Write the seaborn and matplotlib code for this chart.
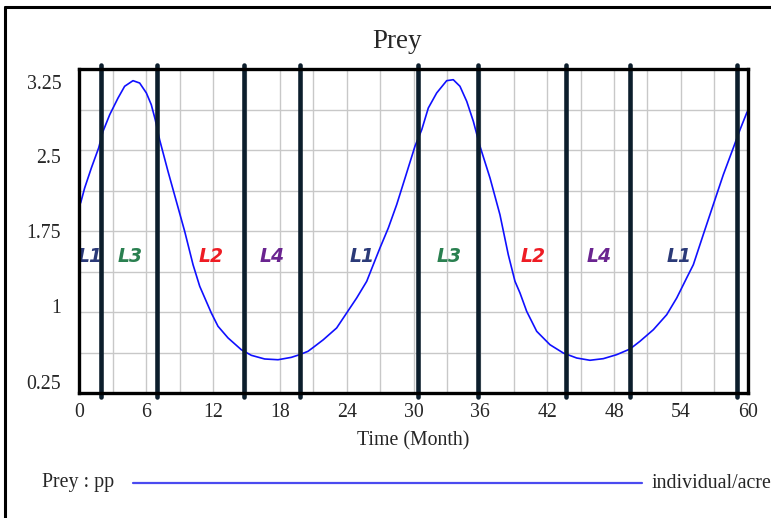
import numpy as np
import pandas as pd
import seaborn as sns
import matplotlib
matplotlib.use("Agg")
import matplotlib.pyplot as plt
from matplotlib.lines import Line2D
from matplotlib.transforms import ScaledTranslation

# ---------------- data ----------------
time = [0.0, 0.12, 0.48, 1.08, 1.74, 2.13, 2.73, 3.47, 4.07, 4.82, 5.42, 6.02, 6.46,
        6.82, 7.21, 7.96, 8.71, 9.46, 10.21, 10.81, 11.85, 12.45, 13.35, 14.54,
        15.44, 16.64, 17.84, 19.03, 19.78, 20.53, 21.0, 21.9, 23.1, 24.0, 24.9,
        25.8, 26.39, 26.99, 27.74, 28.49, 29.24, 30.13, 30.74, 31.33, 32.08, 32.98,
        33.57, 34.17, 34.78, 35.37, 35.97, 36.87, 37.76, 38.51, 39.11, 39.56, 40.16,
        41.06, 42.25, 43.45, 44.65, 45.84, 47.04, 48.24, 49.43, 50.33, 51.53, 52.73,
        53.63, 54.52, 55.12, 56.01, 56.91, 57.81, 58.71, 59.31, 59.91, 60.0]
prey = [2.00, 2.01, 2.148, 2.333, 2.52, 2.673, 2.827, 2.98, 3.09, 3.142, 3.12, 3.028,
        2.92, 2.78, 2.595, 2.303, 2.025, 1.747, 1.438, 1.238, 0.991, 0.868, 0.76,
        0.651, 0.599, 0.565, 0.558, 0.58, 0.605, 0.636, 0.672, 0.743, 0.852, 0.991,
        1.13, 1.284, 1.438, 1.593, 1.778, 1.994, 2.24, 2.534, 2.688, 2.889, 3.028,
        3.142, 3.151, 3.09, 2.95, 2.766, 2.534, 2.24, 1.901, 1.53, 1.284, 1.176,
        1.006, 0.821, 0.697, 0.62, 0.574, 0.553, 0.568, 0.605, 0.657, 0.729, 0.836,
        0.975, 1.13, 1.315, 1.438, 1.716, 1.994, 2.271, 2.52, 2.688, 2.843, 2.86]

regime_switch_times = [1.95, 7.0, 14.8, 19.8, 30.4, 35.8, 43.7, 49.4, 59.0]

region_labels = ["L1", "L3", "L2", "L4", "L1", "L3", "L2", "L4", "L1"]
region_label_x = [0.96, 4.56, 11.83, 17.3, 25.4, 33.2, 40.7, 46.7, 53.8]
region_label_y = 1.51
label_colors = {"L1": "#2b3a78", "L3": "#2a8050", "L2": "#ee1c24", "L4": "#6a2490"}

x_ticks = [0, 6, 12, 18, 24, 30, 36, 42, 48, 54, 60]
y_ticks = [0.25, 1, 1.75, 2.5, 3.25]
y_tick_labels = ["0.25", "1", "1.75", "2.5", "3.25"]

df = pd.DataFrame({"Time": time, "Prey": prey})

# ---------------- figure ----------------
sns.set_theme(style="white")
plt.rcParams["font.family"] = ["Liberation Serif", "DejaVu Serif"]

W, H = 771, 518
fig = plt.figure(figsize=(W / 100, H / 100), dpi=100)
fig.patch.set_facecolor("white")

L, R, T, B = 79.3, 747.7, 69, 393
ax = fig.add_axes([L / W, 1 - B / H, (R - L) / W, (B - T) / H])

sns.lineplot(data=df, x="Time", y="Prey", ax=ax, color="#1010ff", lw=1.2,
             estimator=None, sort=False, zorder=3)

ax.set_xlim(0, 60)
ax.set_ylim(0.25, 3.25)

# grid
ax.set_xticks(x_ticks)
ax.set_xticklabels([str(v) for v in x_ticks])
ax.set_yticks(y_ticks)
ax.set_yticklabels(y_tick_labels)
ax.set_xticks(np.arange(0, 61, 3), minor=True)
ax.set_yticks(np.linspace(0.25, 3.25, 9), minor=True)
ax.grid(which="both", color="#c8c8c8", lw=1.0, zorder=0)
ax.set_axisbelow(True)
ax.tick_params(which="both", length=0)
ax.tick_params(axis="x", pad=7, labelsize=14.3)
ax.tick_params(axis="y", pad=13, labelsize=14.3)

# Vensim style label offsets (pixels, positive = down)
offs = [-11, -6, 0, 6, 13]
for tick, dy in zip(ax.yaxis.get_major_ticks(), offs):
    lab = tick.label1
    lab.set_transform(lab.get_transform() + ScaledTranslation(0, -dy / 100, fig.dpi_scale_trans))

ax.set_xlabel("Time (Month)", fontsize=14.3, labelpad=7)
ax.set_ylabel("")

for s in ax.spines.values():
    s.set_color("black")
    s.set_linewidth(2.4)
    s.set_zorder(6)

# regime switch lines
for t in regime_switch_times:
    ax.axvline(t, ymin=-0.012, ymax=1.012, color="#0c1e2c", lw=3.3, zorder=5, clip_on=False)

# region labels
for name, x in zip(region_labels, region_label_x):
    ax.text(x, region_label_y, name, color=label_colors[name], fontsize=13.5,
            fontweight="bold", fontstyle="oblique", family="DejaVu Sans",
            ha="center", va="center", zorder=4)

# title
fig.text(397 / W, 1 - 41 / H, "Prey", fontsize=19.5, ha="center", va="center")

# legend row
ly = 1 - 483 / H
fig.text(42 / W, ly, "Prey : pp", fontsize=14.3, ha="left", va="center")
fig.add_artist(Line2D([133 / W, 642 / W], [ly, ly], color="#4a4af0", lw=1.6))
fig.text(652 / W, ly, "individual/acre", fontsize=14.3, ha="left", va="center")

# outer frame (top and left)
fig.add_artist(Line2D([5 / W, 1.0], [1 - 7 / H, 1 - 7 / H], color="black", lw=2.2))
fig.add_artist(Line2D([5 / W, 5 / W], [0.0, 1 - 7 / H], color="black", lw=2.2))

fig.savefig("out.png", dpi=100)
